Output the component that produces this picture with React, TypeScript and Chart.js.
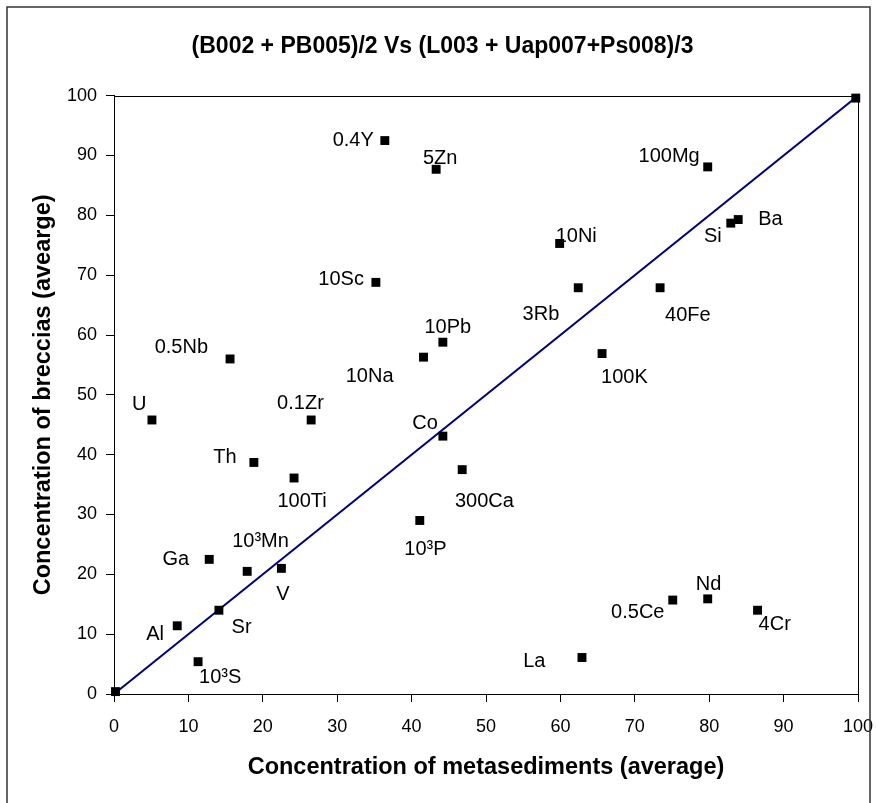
import React, { useEffect, useRef } from 'react';
import { Chart, registerables } from 'chart.js';

Chart.register(...registerables);

// ---- data ----
const elements = ['', '0.4Y', '5Zn', '10Sc', '10Pb', '10Na', '0.5Nb', '100Mg', 'Ba', 'Si', '10Ni', '3Rb', '40Fe', '100K', 'U', '0.1Zr', 'Th', '100Ti', 'Co', '300Ca', '10³P', 'Ga', '10³Mn', 'V', 'Sr', 'Al', '10³S', 'La', '0.5Ce', 'Nd', '4Cr', ''];
const metasediments = [0.2, 36.4, 43.3, 35.2, 44.2, 41.6, 15.6, 79.8, 83.9, 82.9, 59.9, 62.4, 73.4, 65.6, 5.1, 26.5, 18.8, 24.2, 44.2, 46.8, 41.1, 12.8, 17.9, 22.5, 14.1, 8.5, 11.3, 62.9, 75.1, 79.8, 86.5, 99.7];
const breccias = [0.4, 92.5, 87.7, 68.8, 58.8, 56.3, 56.0, 88.1, 79.3, 78.7, 75.3, 67.9, 67.9, 56.9, 45.8, 45.8, 38.7, 36.1, 43.1, 37.5, 29.0, 22.5, 20.5, 21.0, 14.0, 11.4, 5.4, 6.1, 15.7, 15.9, 14.0, 99.6];
const refLineX = [0, 100];
const refLineY = [0, 100];
const axisMin = 0;
const axisMax = 100;
const axisStep = 10;

const chartTitle = '(B002 + PB005)/2 Vs (L003 + Uap007+Ps008)/3';
const xTitle = 'Concentration of metasediments (average)';
const yTitle = 'Concentration of breccias (avearge)';

// ---- label placement (align, dx, dy to cap centre) ----
const placement: Record<string, [CanvasTextAlign, number, number]> = {
  '0.4Y': ['right', -11, -2],
  '5Zn': ['center', 4, -12],
  '10Sc': ['right', -12, -4],
  '10Pb': ['center', 5, -16],
  '10Na': ['right', -30, 18],
  '0.5Nb': ['right', -22, -12.6],
  '100Mg': ['right', -8, -11.5],
  'Ba': ['left', 20, -2],
  'Si': ['right', -9, 12],
  '10Ni': ['left', -4, -8],
  '3Rb': ['right', -19, 25],
  '40Fe': ['left', 5, 26],
  '100K': ['left', -1, 22],
  'U': ['center', -12.7, -16.7],
  '0.1Zr': ['center', -10.7, -18.3],
  'Th': ['right', -17.3, -6],
  '100Ti': ['center', 8, 22.4],
  'Co': ['right', -5, -14.3],
  '300Ca': ['left', -7.3, 30.7],
  '10³P': ['center', 5.7, 28],
  'Ga': ['right', -20, -1],
  '10³Mn': ['center', 13.3, -31.7],
  'V': ['center', 1.6, 25],
  'Sr': ['left', 12.7, 16],
  'Al': ['right', -13.3, 7.6],
  '10³S': ['left', 1, 14.3],
  'La': ['right', -36.6, 2.3],
  '0.5Ce': ['right', -8.3, 10.7],
  'Nd': ['center', 0.8, -15.4],
  '4Cr': ['left', 1, 12.3],
};

const FONT = '"Liberation Sans", Arial, Helvetica, sans-serif';

const labelPlugin = {
  id: 'elementLabels',
  afterDatasetsDraw(chart: any) {
    const meta = chart.getDatasetMeta(0);
    const ctx = chart.ctx as CanvasRenderingContext2D;
    ctx.save();
    ctx.font = `20px ${FONT}`;
    ctx.fillStyle = '#000';
    ctx.textBaseline = 'alphabetic';
    meta.data.forEach((pt: any, i: number) => {
      const name = elements[i];
      if (!name) return;
      const p = placement[name] || ['left', 8, 0];
      ctx.textAlign = p[0];
      ctx.fillText(name, pt.x + p[1], pt.y + p[2] + 7);
    });
    ctx.restore();
  },
};

const framePlugin = {
  id: 'frame',
  beforeDraw(chart: any) {
    const ctx = chart.ctx as CanvasRenderingContext2D;
    ctx.save();
    ctx.fillStyle = '#fff';
    ctx.fillRect(0, 0, chart.width, chart.height);
    ctx.restore();
  },
  beforeDatasetsDraw(chart: any) {
    const ctx = chart.ctx as CanvasRenderingContext2D;
    const a = chart.chartArea;
    ctx.save();
    ctx.strokeStyle = '#000';
    ctx.lineWidth = 1;
    ctx.strokeRect(Math.round(a.left) + 0.5, Math.round(a.top) + 0.5, Math.round(a.right - a.left), Math.round(a.bottom - a.top));
    ctx.restore();
  },
  afterDraw(chart: any) {
    const ctx = chart.ctx as CanvasRenderingContext2D;
    ctx.save();
    ctx.strokeStyle = '#333';
    ctx.lineWidth = 1.5;
    ctx.strokeRect(7, 7, 863, chart.height + 20);
    ctx.restore();
  },
};

export default function App() {
  const ref = useRef<HTMLCanvasElement | null>(null);
  useEffect(() => {
    document.body.style.margin = '0';
    const canvas = ref.current;
    if (!canvas) return;
    const chart = new Chart(canvas, {
      type: 'scatter',
      data: {
        datasets: [
          {
            label: 'elements',
            data: metasediments.map((x, i) => ({ x, y: breccias[i] })),
            pointStyle: 'rect',
            pointRadius: 6.3,
            pointHoverRadius: 6.3,
            backgroundColor: '#000',
            borderColor: '#000',
            borderWidth: 0,
            clip: false,
          },
          {
            label: '1:1',
            data: refLineX.map((x, i) => ({ x, y: refLineY[i] })),
            showLine: true,
            borderColor: '#000080',
            borderWidth: 2,
            pointRadius: 0,
            pointHoverRadius: 0,
          },
        ],
      },
      options: {
        animation: false,
        responsive: false,
        events: [],
        layout: { padding: { left: 9, right: 0, top: 0, bottom: 0 } },
        plugins: {
          legend: { display: false },
          tooltip: { enabled: false },
          title: {
            display: true,
            text: chartTitle,
            color: '#000',
            font: { family: FONT, size: 23, weight: 'bold' },
            padding: { top: 33.2, bottom: 34.9 },
          },
        },
        scales: {
          x: {
            type: 'linear',
            min: axisMin,
            max: axisMax,
            afterFit: (s: any) => { s.height = 109; s.paddingLeft = 0; s.paddingRight = 18; },
            ticks: { stepSize: axisStep, color: '#000', font: { family: FONT, size: 18 }, padding: 14, maxRotation: 0 },
            grid: { drawOnChartArea: false, drawTicks: true, tickLength: 8, color: '#000', lineWidth: 1 },
            border: { display: true, color: '#000', width: 1 },
            title: {
              display: true,
              text: xTitle,
              color: '#000',
              font: { family: FONT, size: 23.5, weight: 'bold' },
              padding: { top: 0, bottom: 20.9 },
            },
          },
          y: {
            type: 'linear',
            min: axisMin,
            max: axisMax,
            afterFit: (s: any) => { s.width = 105; s.paddingTop = 0; s.paddingBottom = 0; },
            ticks: { stepSize: axisStep, color: '#000', font: { family: FONT, size: 18 }, padding: 9 },
            grid: { drawOnChartArea: false, drawTicks: true, tickLength: 8, color: '#000', lineWidth: 1 },
            border: { display: true, color: '#000', width: 1 },
            title: {
              display: true,
              text: yTitle,
              color: '#000',
              font: { family: FONT, size: 23.5, weight: 'bold' },
              padding: { top: 20.9, bottom: 0 },
            },
          },
        },
      },
      plugins: [framePlugin, labelPlugin],
    } as any);
    return () => chart.destroy();
  }, []);
  return <canvas ref={ref} width={876} height={803} style={{ display: 'block' }} />;
}
